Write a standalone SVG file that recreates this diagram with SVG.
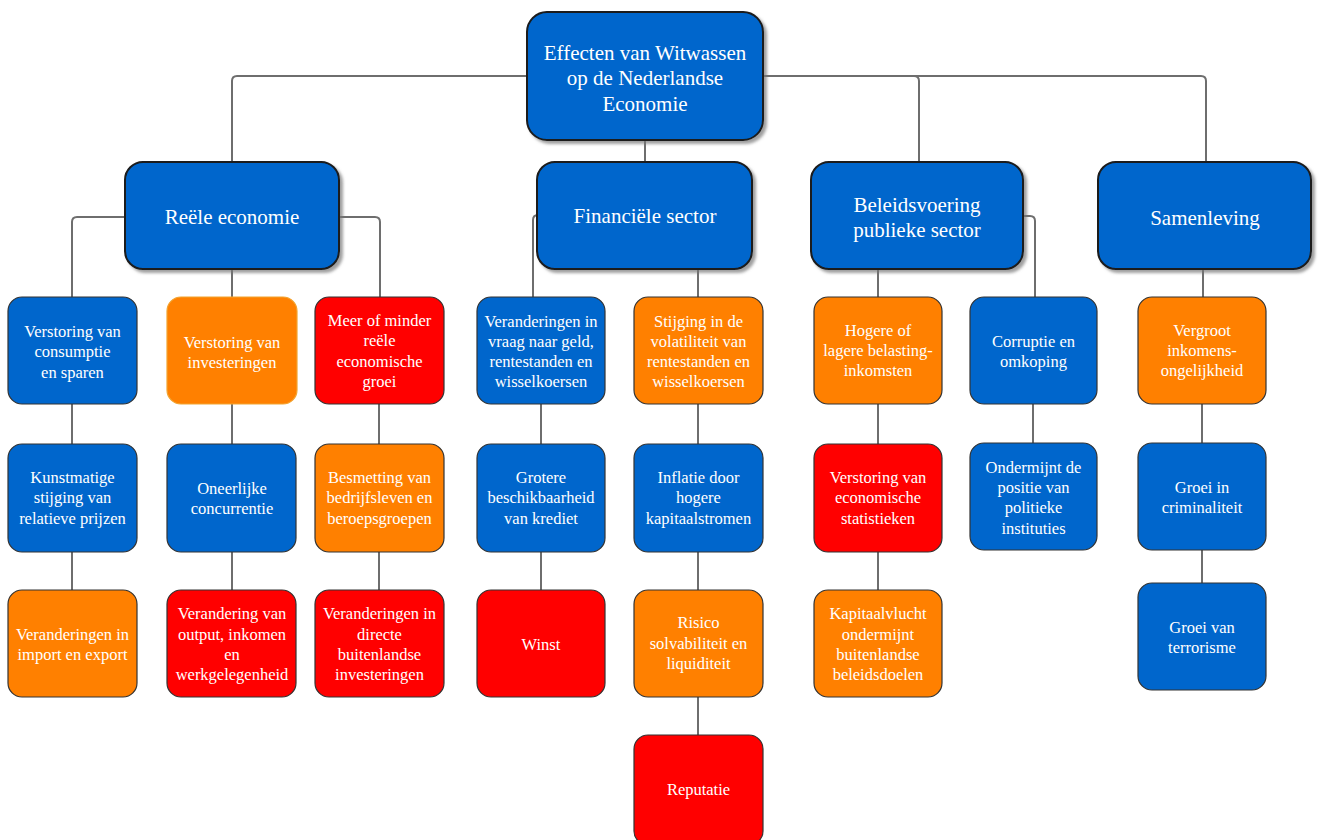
<svg xmlns="http://www.w3.org/2000/svg" width="1318" height="840" viewBox="0 0 1318 840">
<defs>
<filter id="sh" x="-10%" y="-10%" width="125%" height="130%">
<feDropShadow dx="3" dy="3" stdDeviation="1.8" flood-color="#777" flood-opacity="0.7"/>
</filter>
<style>
.big{stroke:#1a1a1a;stroke-width:2;filter:url(#sh)}
.sm{stroke:#333;stroke-width:1.2}
.blue{fill:#0066CC}
.orange{fill:#FF8000}
.red{fill:#FF0000}
.t{font-family:"Liberation Serif","Times New Roman",serif;fill:#fff;text-anchor:middle}
.tb{font-size:21px}
.ts{font-size:16.5px}
.con{fill:none;stroke:#6e6e6e;stroke-width:2}
</style>
</defs>
<rect width="1318" height="840" fill="#fff"/>
<g id="connectors">
<path class="con" d="M527,76 H237 Q232,76 232,81 V162"/>
<path class="con" d="M763,76 H914 Q919,76 919,81 V162"/>
<path class="con" d="M763,76 H1201 Q1206,76 1206,81 V162"/>
<path class="con" d="M645,140 V162"/>
<path class="con" d="M125,217 H77 Q72,217 72,222 V297"/>
<path class="con" d="M232,269 V297"/>
<path class="con" d="M339,217 H375 Q380,217 380,222 V297"/>
<path class="con" d="M538,215 Q533,215 533,220 V297"/>
<path class="con" d="M698,269 V297"/>
<path class="con" d="M878,269 V297"/>
<path class="con" d="M1023,216 H1030 Q1035,216 1035,221 V297"/>
<path class="con" d="M1203,269 V297"/>
<path class="con" d="M72,404 V444 M72,552 V590"/>
<path class="con" d="M232,404 V444 M232,552 V590"/>
<path class="con" d="M379,404 V444 M379,552 V590"/>
<path class="con" d="M541,404 V444 M541,552 V590"/>
<path class="con" d="M698,404 V444 M698,552 V590 M698,697 V735"/>
<path class="con" d="M878,404 V444 M878,552 V590"/>
<path class="con" d="M1033,404 V443"/>
<path class="con" d="M1202,404 V443 M1202,550 V583"/>
</g>
<g id="n-root">
<rect class="big blue" x="527" y="12" width="236" height="128" rx="20"/>
<text class="t tb" x="645" y="60">Effecten van Witwassen</text>
<text class="t tb" x="645" y="85">op de Nederlandse</text>
<text class="t tb" x="645" y="111">Economie</text>
</g>
<g id="n-reeel">
<rect class="big blue" x="125" y="162" width="214" height="107" rx="18"/>
<text class="t tb" x="232" y="224">Reële economie</text>
</g>
<g id="n-fin">
<rect class="big blue" x="537" y="162" width="215" height="107" rx="18"/>
<text class="t tb" x="645" y="223">Financiële sector</text>
</g>
<g id="n-beleid">
<rect class="big blue" x="811" y="162" width="212" height="107" rx="18"/>
<text class="t tb" x="917" y="212">Beleidsvoering</text>
<text class="t tb" x="917" y="237">publieke sector</text>
</g>
<g id="n-samen">
<rect class="big blue" x="1098" y="162" width="213" height="107" rx="18"/>
<text class="t tb" x="1205" y="225">Samenleving</text>
</g>
<!-- column 1 -->
<g id="n-c1r1">
<rect class="sm blue" x="8" y="297" width="129" height="107" rx="14"/>
<text class="t ts" x="72.5" y="337">Verstoring van</text>
<text class="t ts" x="72.5" y="357">consumptie</text>
<text class="t ts" x="72.5" y="378">en sparen</text>
</g>
<g id="n-c1r2">
<rect class="sm blue" x="8" y="444" width="129" height="108" rx="14"/>
<text class="t ts" x="72.5" y="483">Kunstmatige</text>
<text class="t ts" x="72.5" y="503">stijging van</text>
<text class="t ts" x="72.5" y="524">relatieve prijzen</text>
</g>
<g id="n-c1r3">
<rect class="sm orange" x="8" y="590" width="129" height="107" rx="14"/>
<text class="t ts" x="72.5" y="640">Veranderingen in</text>
<text class="t ts" x="72.5" y="660">import en export</text>
</g>
<!-- column 2 -->
<g id="n-c2r1">
<rect class="orange" x="167" y="297" width="130" height="107" rx="14" stroke="#F2A431" stroke-width="1.2"/>
<text class="t ts" x="232" y="348">Verstoring van</text>
<text class="t ts" x="232" y="368">investeringen</text>
</g>
<g id="n-c2r2">
<rect class="sm blue" x="167" y="444" width="129" height="108" rx="14"/>
<text class="t ts" x="232" y="494">Oneerlijke</text>
<text class="t ts" x="232" y="514">concurrentie</text>
</g>
<g id="n-c2r3">
<rect class="sm red" x="167" y="590" width="129" height="107" rx="14"/>
<text class="t ts" x="232" y="619">Verandering van</text>
<text class="t ts" x="232" y="640">output, inkomen</text>
<text class="t ts" x="232" y="660">en</text>
<text class="t ts" x="232" y="680">werkgelegenheid</text>
</g>
<!-- column 3 -->
<g id="n-c3r1">
<rect class="sm red" x="315" y="297" width="129" height="107" rx="14"/>
<text class="t ts" x="379.5" y="326">Meer of minder</text>
<text class="t ts" x="379.5" y="346">reële</text>
<text class="t ts" x="379.5" y="367">economische</text>
<text class="t ts" x="379.5" y="387">groei</text>
</g>
<g id="n-c3r2">
<rect class="sm orange" x="315" y="444" width="129" height="108" rx="14"/>
<text class="t ts" x="379.5" y="483">Besmetting van</text>
<text class="t ts" x="379.5" y="503">bedrijfsleven en</text>
<text class="t ts" x="379.5" y="524">beroepsgroepen</text>
</g>
<g id="n-c3r3">
<rect class="sm red" x="315" y="590" width="129" height="107" rx="14"/>
<text class="t ts" x="379.5" y="619">Veranderingen in</text>
<text class="t ts" x="379.5" y="640">directe</text>
<text class="t ts" x="379.5" y="660">buitenlandse</text>
<text class="t ts" x="379.5" y="680">investeringen</text>
</g>
<!-- column 4 -->
<g id="n-c4r1">
<rect class="sm blue" x="477" y="297" width="128" height="107" rx="14"/>
<text class="t ts" x="541" y="327">Veranderingen in</text>
<text class="t ts" x="541" y="347">vraag naar geld,</text>
<text class="t ts" x="541" y="367">rentestanden en</text>
<text class="t ts" x="541" y="387">wisselkoersen</text>
</g>
<g id="n-c4r2">
<rect class="sm blue" x="477" y="444" width="128" height="108" rx="14"/>
<text class="t ts" x="541" y="483">Grotere</text>
<text class="t ts" x="541" y="503">beschikbaarheid</text>
<text class="t ts" x="541" y="524">van krediet</text>
</g>
<g id="n-c4r3">
<rect class="sm red" x="477" y="590" width="128" height="107" rx="14"/>
<text class="t ts" x="541" y="650">Winst</text>
</g>
<!-- column 5 -->
<g id="n-c5r1">
<rect class="sm orange" x="634" y="297" width="129" height="107" rx="14"/>
<text class="t ts" x="698.5" y="327">Stijging in de</text>
<text class="t ts" x="698.5" y="347">volatiliteit van</text>
<text class="t ts" x="698.5" y="367">rentestanden en</text>
<text class="t ts" x="698.5" y="387">wisselkoersen</text>
</g>
<g id="n-c5r2">
<rect class="sm blue" x="634" y="444" width="129" height="108" rx="14"/>
<text class="t ts" x="698.5" y="483">Inflatie door</text>
<text class="t ts" x="698.5" y="503">hogere</text>
<text class="t ts" x="698.5" y="524">kapitaalstromen</text>
</g>
<g id="n-c5r3">
<rect class="sm orange" x="634" y="590" width="129" height="107" rx="14"/>
<text class="t ts" x="698.5" y="628">Risico</text>
<text class="t ts" x="698.5" y="649">solvabiliteit en</text>
<text class="t ts" x="698.5" y="669">liquiditeit</text>
</g>
<g id="n-c5r4">
<rect class="sm red" x="634" y="735" width="129" height="110" rx="14"/>
<text class="t ts" x="698.5" y="795">Reputatie</text>
</g>
<!-- column 6 -->
<g id="n-c6r1">
<rect class="sm orange" x="814" y="297" width="128" height="107" rx="14"/>
<text class="t ts" x="878" y="336">Hogere of</text>
<text class="t ts" x="878" y="356">lagere belasting-</text>
<text class="t ts" x="878" y="376">inkomsten</text>
</g>
<g id="n-c6r2">
<rect class="sm red" x="814" y="444" width="128" height="108" rx="14"/>
<text class="t ts" x="878" y="483">Verstoring van</text>
<text class="t ts" x="878" y="503">economische</text>
<text class="t ts" x="878" y="524">statistieken</text>
</g>
<g id="n-c6r3">
<rect class="sm orange" x="814" y="590" width="128" height="107" rx="14"/>
<text class="t ts" x="878" y="619">Kapitaalvlucht</text>
<text class="t ts" x="878" y="640">ondermijnt</text>
<text class="t ts" x="878" y="660">buitenlandse</text>
<text class="t ts" x="878" y="680">beleidsdoelen</text>
</g>
<!-- column 7 -->
<g id="n-c7r1">
<rect class="sm blue" x="970" y="297" width="127" height="107" rx="14"/>
<text class="t ts" x="1033.5" y="347">Corruptie en</text>
<text class="t ts" x="1033.5" y="367">omkoping</text>
</g>
<g id="n-c7r2">
<rect class="sm blue" x="970" y="443" width="127" height="107" rx="14"/>
<text class="t ts" x="1033.5" y="473">Ondermijnt de</text>
<text class="t ts" x="1033.5" y="493">positie van</text>
<text class="t ts" x="1033.5" y="513">politieke</text>
<text class="t ts" x="1033.5" y="534">instituties</text>
</g>
<!-- column 8 -->
<g id="n-c8r1">
<rect class="sm orange" x="1138" y="297" width="128" height="107" rx="14"/>
<text class="t ts" x="1202" y="336">Vergroot</text>
<text class="t ts" x="1202" y="356">inkomens-</text>
<text class="t ts" x="1202" y="376">ongelijkheid</text>
</g>
<g id="n-c8r2">
<rect class="sm blue" x="1138" y="443" width="128" height="107" rx="14"/>
<text class="t ts" x="1202" y="493">Groei in</text>
<text class="t ts" x="1202" y="513">criminaliteit</text>
</g>
<g id="n-c8r3">
<rect class="sm blue" x="1138" y="583" width="128" height="107" rx="14"/>
<text class="t ts" x="1202" y="633">Groei van</text>
<text class="t ts" x="1202" y="653">terrorisme</text>
</g>
</svg>
